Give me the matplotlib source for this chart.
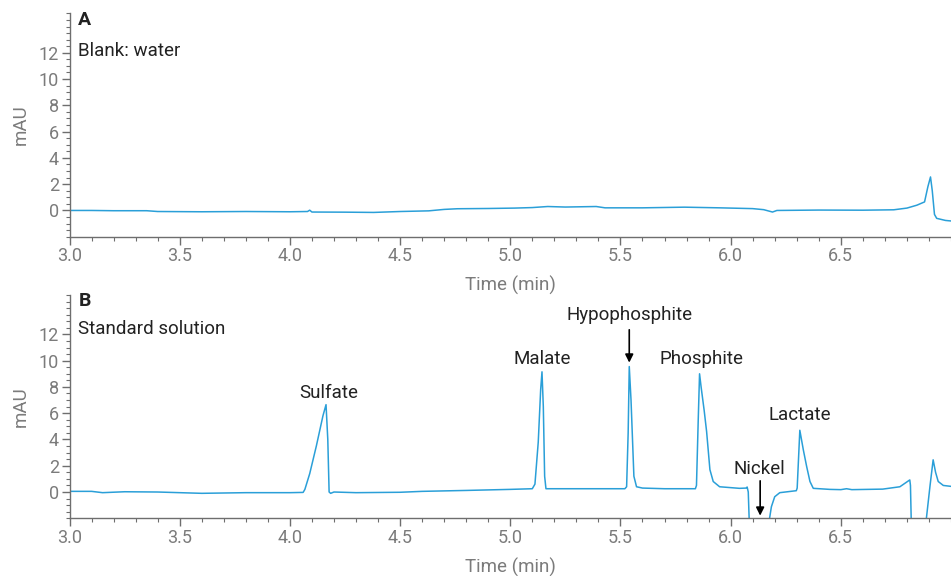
import matplotlib
matplotlib.use("Agg")
import matplotlib.pyplot as plt
from matplotlib.ticker import MultipleLocator, FixedLocator

plt.rcParams['font.family'] = ['Roboto', 'DejaVu Sans']

# blank (water) trace
time_a = [3.00, 3.10, 3.20, 3.35, 3.40, 3.60, 3.80, 4.00, 4.08, 4.09, 4.10, 4.25,
          4.38, 4.50, 4.63, 4.70, 4.76, 4.90, 5.02, 5.10, 5.17, 5.25, 5.39, 5.43,
          5.60, 5.79, 5.95, 6.10, 6.15, 6.19, 6.21, 6.40, 6.60, 6.74, 6.80, 6.845,
          6.88, 6.895, 6.907, 6.915, 6.925, 6.935, 6.975, 7.00]
mau_a = [0.00, 0.00, -0.02, -0.02, -0.08, -0.10, -0.08, -0.10, -0.08, 0.02, -0.12, -0.13,
         -0.15, -0.08, -0.03, 0.08, 0.13, 0.15, 0.18, 0.22, 0.30, 0.26, 0.30, 0.20,
         0.20, 0.25, 0.20, 0.14, 0.06, -0.12, 0.00, 0.03, 0.02, 0.05, 0.18, 0.40,
         0.65, 1.80, 2.55, 1.50, -0.30, -0.60, -0.76, -0.80]

# standard solution trace
time_b = [3.00, 3.10, 3.15, 3.25, 3.40, 3.60, 3.80, 4.00, 4.06, 4.068, 4.09, 4.12,
          4.15, 4.164, 4.172, 4.178, 4.185, 4.20, 4.30, 4.50, 4.60, 4.80, 5.00, 5.10,
          5.112, 5.127, 5.138, 5.144, 5.150, 5.156, 5.162, 5.30, 5.52, 5.528, 5.535, 5.540,
          5.548, 5.561, 5.573, 5.60, 5.70, 5.84, 5.845, 5.853, 5.859, 5.866, 5.88, 5.891,
          5.906, 5.921, 5.95, 6.04, 6.07, 6.075, 6.080, 6.085, 6.172, 6.185, 6.200, 6.223,
          6.298, 6.302, 6.314, 6.33, 6.345, 6.36, 6.375, 6.45, 6.50, 6.526, 6.55, 6.69,
          6.768, 6.813, 6.816, 6.820, 6.885, 6.905, 6.919, 6.93, 6.942, 6.965, 7.00]
mau_b = [0.05, 0.05, -0.05, 0.02, 0.00, -0.10, -0.05, -0.05, -0.03, 0.20, 1.40, 3.50,
         5.80, 6.65, 4.00, 0.00, -0.10, 0.00, -0.05, -0.02, 0.05, 0.12, 0.20, 0.25,
         0.60, 3.80, 7.80, 9.15, 6.50, 1.20, 0.25, 0.25, 0.25, 0.40, 4.50, 9.55,
         7.00, 1.20, 0.40, 0.30, 0.25, 0.25, 0.50, 5.50, 9.00, 8.00, 6.20, 4.60,
         1.70, 0.80, 0.40, 0.28, 0.30, 0.38, 0.00, -2.50, -2.50, -1.12, -0.36, -0.05,
         0.10, 0.30, 4.70, 3.20, 1.94, 0.80, 0.28, 0.20, 0.18, 0.25, 0.18, 0.22,
         0.40, 0.92, 0.50, -2.50, -2.50, 0.50, 2.45, 1.50, 0.80, 0.50, 0.43]

peak_names = ["Sulfate", "Malate", "Hypophosphite", "Phosphite", "Lactate", "Nickel"]
peak_label_x = [4.177, 5.144, 5.543, 5.870, 6.314, 6.132]
peak_label_y = [7.55, 10.15, 13.5, 10.1, 5.85, 1.75]

line_col = '#2a9fd8'
grey = '#7b7b7b'
dark = '#222222'

fig = plt.figure(figsize=(9.51, 5.76), dpi=100)
ax_a = fig.add_axes([0.0731, 0.589, 0.9269, 0.3878])
ax_b = fig.add_axes([0.0731, 0.1002, 0.9269, 0.3877])

for ax, t, y in [(ax_a, time_a, mau_a), (ax_b, time_b, mau_b)]:
    ax.plot(t, y, color=line_col, lw=1.1)
    ax.set_xlim(3.0, 7.0)
    ax.set_ylim(-2, 15)
    ax.spines['top'].set_visible(False)
    ax.spines['right'].set_visible(False)
    for s in ['left', 'bottom']:
        ax.spines[s].set_color('#6e6e6e')
        ax.spines[s].set_linewidth(1.0)
    ax.xaxis.set_major_locator(FixedLocator([3.0, 3.5, 4.0, 4.5, 5.0, 5.5, 6.0, 6.5]))
    ax.xaxis.set_minor_locator(MultipleLocator(0.1))
    ax.yaxis.set_major_locator(FixedLocator([0, 2, 4, 6, 8, 10, 12]))
    ax.yaxis.set_minor_locator(MultipleLocator(0.5))
    ax.set_xticklabels(['3.0', '3.5', '4.0', '4.5', '5.0', '5.5', '6.0', '6.5'])
    ax.tick_params(which='major', length=5.5, width=1.0, color='#6e6e6e',
                   labelsize=13, labelcolor=grey, pad=2)
    ax.tick_params(which='minor', length=3, width=0.8, color='#6e6e6e')
    ax.set_xlabel('Time (min)', fontsize=13.5, color=grey, labelpad=8)
    ax.set_ylabel('mAU', fontsize=13.5, color=grey)
    ax.yaxis.set_label_coords(-0.045, 0.5)

ax_a.text(3.04, 14.47, 'A', fontsize=14, fontweight='bold', color=dark, va='center')
ax_a.text(3.04, 12.1, 'Blank: water', fontsize=13.5, color=dark, va='center')
ax_b.text(3.04, 14.55, 'B', fontsize=14, fontweight='bold', color=dark, va='center')
ax_b.text(3.04, 12.4, 'Standard solution', fontsize=13.5, color=dark, va='center')

for name, x, y in zip(peak_names, peak_label_x, peak_label_y):
    ax_b.text(x, y, name, fontsize=13.5, color=dark, ha='center', va='center')

ax_b.annotate('', xy=(5.540, 9.85), xytext=(5.540, 12.35),
              arrowprops=dict(arrowstyle='-|>', color='black', lw=1.2,
                              mutation_scale=12, shrinkA=0, shrinkB=0))
ax_b.annotate('', xy=(6.134, -1.8), xytext=(6.134, 0.85),
              arrowprops=dict(arrowstyle='-|>', color='black', lw=1.2,
                              mutation_scale=12, shrinkA=0, shrinkB=0))

fig.savefig('out.png', dpi=100)
